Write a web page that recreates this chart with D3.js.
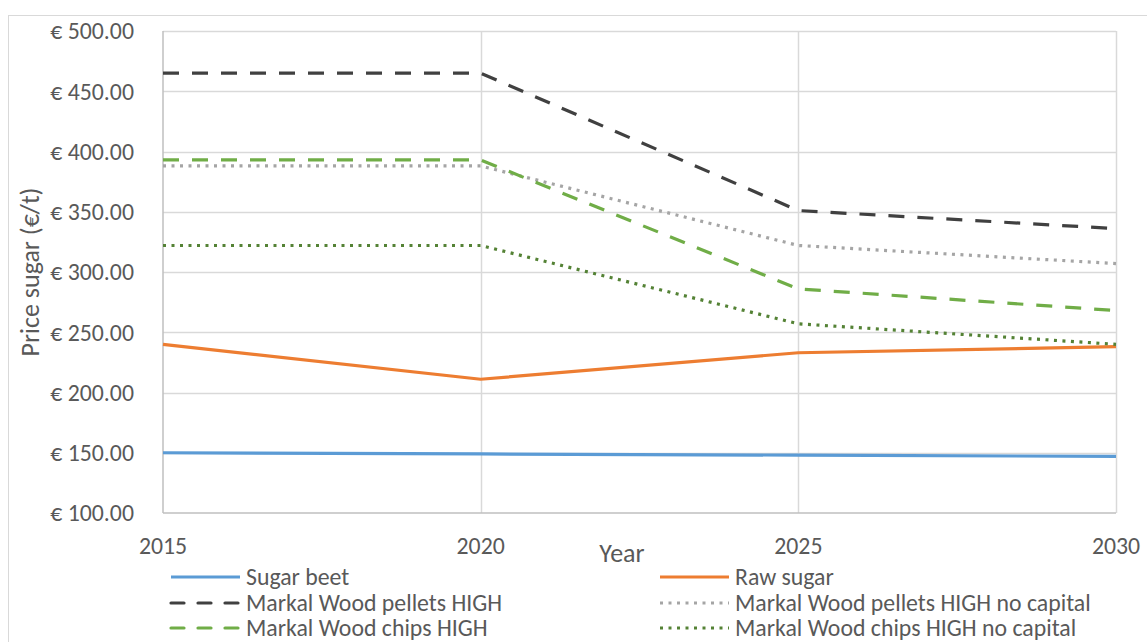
<!DOCTYPE html>
<html><head><meta charset="utf-8">
<script src="https://cdn.jsdelivr.net/npm/d3@7"></script>
<style>body{margin:0;background:#fff;} svg{display:block;} text{font-family:Carlito,'Liberation Sans Narrow','Open Sans',sans-serif;fill:#595959;}</style>
</head><body>
<svg id="c" width="1147" height="642"></svg>
<script>
const years = [2015, 2020, 2025, 2030];
const yTicks = [100, 150, 200, 250, 300, 350, 400, 450, 500];
const sugarBeet = [150, 149, 148, 147];
const rawSugar = [240, 211, 233, 238];
const pelletsHigh = [465, 465, 351, 336];
const pelletsNoCap = [388, 388, 322, 307];
const chipsHigh = [393, 393, 286, 268];
const chipsNoCap = [322, 322, 257, 240];
const seriesNames = ["Sugar beet","Raw sugar","Markal Wood pellets HIGH","Markal Wood pellets HIGH no capital","Markal Wood chips HIGH","Markal Wood chips HIGH no capital"];

const styles = [
  {c:"#5B9BD5", d:null},
  {c:"#ED7D31", d:null},
  {c:"#404040", d:"16,13"},
  {c:"#A5A5A5", d:"3,5.5"},
  {c:"#70AD47", d:"16,13"},
  {c:"#548235", d:"3,5.5"}
];
const data = [sugarBeet, rawSugar, pelletsHigh, pelletsNoCap, chipsHigh, chipsNoCap];

const svg = d3.select("#c");
svg.append("rect").attr("x",8.5).attr("y",15.5).attr("width",1160).attr("height",700).attr("fill","none").attr("stroke","#d9d9d9");

const x = d3.scaleLinear().domain([2015,2030]).range([163,1116]);
const y = d3.scaleLinear().domain([100,500]).range([513,31]);

const g = svg.append("g");
g.selectAll(".hg").data(yTicks.filter(v=>v>100)).join("line")
 .attr("x1",x(2015)).attr("x2",x(2030)).attr("y1",d=>Math.round(y(d))+0.5).attr("y2",d=>Math.round(y(d))+0.5)
 .attr("stroke","#d9d9d9").attr("stroke-width",1.5);
g.selectAll(".vg").data(years.slice(1)).join("line")
 .attr("x1",d=>Math.round(x(d))+0.5).attr("x2",d=>Math.round(x(d))+0.5).attr("y1",y(500)).attr("y2",y(100))
 .attr("stroke","#d9d9d9").attr("stroke-width",1.5);
g.append("line").attr("x1",x(2015)).attr("x2",x(2015)).attr("y1",y(500)).attr("y2",y(100)).attr("stroke","#bfbfbf").attr("stroke-width",1.5);
g.append("line").attr("x1",x(2015)).attr("x2",x(2030)).attr("y1",y(100)).attr("y2",y(100)).attr("stroke","#bfbfbf").attr("stroke-width",1.5);

g.selectAll(".yl").data(yTicks).join("text")
 .attr("x",134).attr("y",d=>y(d)).attr("dy","0.35em").attr("text-anchor","end")
 .attr("font-size",23.8).text(d=>"€ "+d.toFixed(2));
g.selectAll(".xl").data(years).join("text")
 .attr("x",d=>x(d)).attr("y",546).attr("dy","0.35em").attr("text-anchor","middle")
 .attr("font-size",23.8).text(d=>d);

svg.append("text").attr("x",622).attr("y",553).attr("dy","0.35em").attr("text-anchor","middle").attr("font-size",26).text("Year");
svg.append("text").attr("transform","translate(30,272) rotate(-90)").attr("dy","0.35em").attr("text-anchor","middle").attr("font-size",26).text("Price sugar (€/t)");

const line = d3.line().x((d,i)=>x(years[i])).y(d=>y(d));
data.forEach((s,i)=>{
  svg.append("path").datum(s).attr("d",line).attr("fill","none")
   .attr("stroke",styles[i].c).attr("stroke-width",3.2)
   .attr("stroke-dasharray",styles[i].d).attr("stroke-linejoin","round");
});

const legPos = [[171,577],[660,577],[171,603],[660,603],[171,628],[660,628]];
seriesNames.forEach((n,i)=>{
  const [lx,ly] = legPos[i];
  svg.append("line").attr("x1",lx).attr("x2",lx+69).attr("y1",ly).attr("y2",ly)
   .attr("stroke",styles[i].c).attr("stroke-width",3.2).attr("stroke-dasharray",styles[i].d ? (styles[i].d==="16,13"?"13,14":"3,5.5") : null)
   .attr("stroke-linecap", styles[i].d==="16,13"?"round":"butt");
  svg.append("text").attr("x",lx+75).attr("y",ly).attr("dy","0.35em").attr("font-size",23.8).text(n);
});
</script>
</body></html>
